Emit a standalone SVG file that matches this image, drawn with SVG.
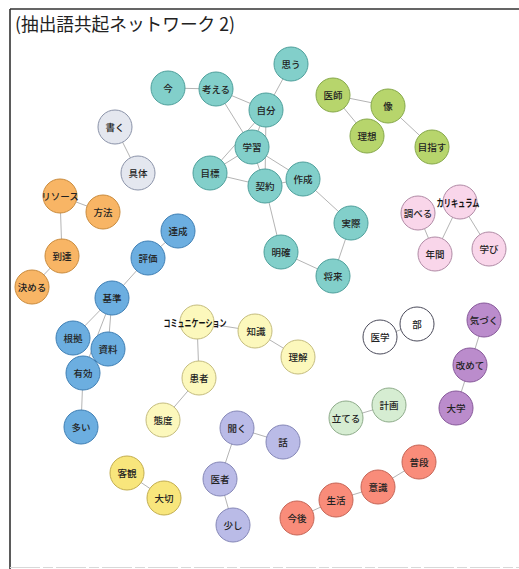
<svg xmlns="http://www.w3.org/2000/svg" width="519" height="569" viewBox="0 0 519 569">
  <style>
    .frame { stroke: #333; stroke-width: 1.6; fill: none; }
    .edge { stroke: #b4b4b4; stroke-width: 1; fill: none; }
    circle { stroke-width: 1; }
    .lbl { font-family: "Noto Sans CJK JP", "Noto Sans", sans-serif; font-size: 9.5px; font-weight: 500; fill: #222; text-anchor: middle; dominant-baseline: central; }
    .big { font-size: 10px; font-weight: 700; fill: #111; }
    .title { font-family: "Noto Sans CJK JP", sans-serif; font-size: 18px; fill: #222; }
    .t circle { fill: #82cfca; stroke: #4e9f9b; }
    .g circle { fill: #b7d56c; stroke: #86a84a; }
    .s circle { fill: #e4e7ef; stroke: #8b93a9; }
    .o circle { fill: #f8b565; stroke: #c98b3d; }
    .b circle { fill: #6caee0; stroke: #3f7fb4; }
    .y circle { fill: #fcf8bc; stroke: #c4bc7e; }
    .yy circle { fill: #f8e67c; stroke: #c2ad4f; }
    .p circle { fill: #f9d6ea; stroke: #b08aa5; }
    .w circle { fill: #ffffff; stroke: #4a4a5a; }
    .v circle { fill: #bb8ccc; stroke: #87599a; }
    .lg circle { fill: #d6edd2; stroke: #8eab8a; }
    .l circle { fill: #babbe7; stroke: #8587b7; }
    .r circle { fill: #f98c7a; stroke: #c56556; }
  </style>

  <!-- outer frame: top and left rules, faint bottom rule -->
  <path class="frame" d="M10,9 H519 M10,9 V569"/>
  <path d="M10,567.5 H519" stroke="#d8d8d8" stroke-width="1.2" stroke-dasharray="30 3 10 3"/>
  <text class="title" x="15" y="31" textLength="220" lengthAdjust="spacingAndGlyphs">(抽出語共起ネットワーク 2)</text>

  <g id="edges">
    <!-- teal cluster -->
    <line class="edge" x1="168" y1="88" x2="216" y2="89"/>
    <line class="edge" x1="216" y1="89" x2="266" y2="110"/>
    <line class="edge" x1="216" y1="89" x2="252" y2="147"/>
    <line class="edge" x1="291" y1="64" x2="266" y2="110"/>
    <line class="edge" x1="266" y1="110" x2="252" y2="147"/>
    <line class="edge" x1="266" y1="110" x2="265" y2="186"/>
    <line class="edge" x1="210" y1="173" x2="252" y2="147"/>
    <line class="edge" x1="210" y1="173" x2="266" y2="110"/>
    <line class="edge" x1="252" y1="147" x2="265" y2="186"/>
    <line class="edge" x1="252" y1="147" x2="303" y2="179"/>
    <line class="edge" x1="210" y1="173" x2="265" y2="186"/>
    <line class="edge" x1="265" y1="186" x2="303" y2="179"/>
    <line class="edge" x1="265" y1="186" x2="281" y2="252"/>
    <line class="edge" x1="303" y1="179" x2="351" y2="223"/>
    <line class="edge" x1="351" y1="223" x2="333" y2="276"/>
    <line class="edge" x1="333" y1="276" x2="281" y2="252"/>
    <!-- green -->
    <line class="edge" x1="333" y1="95" x2="388" y2="106"/>
    <line class="edge" x1="333" y1="95" x2="367" y2="136"/>
    <line class="edge" x1="388" y1="106" x2="432" y2="147"/>
    <!-- gray -->
    <line class="edge" x1="115" y1="127" x2="138" y2="173"/>
    <!-- orange -->
    <line class="edge" x1="60" y1="196" x2="103" y2="212"/>
    <line class="edge" x1="60" y1="196" x2="62" y2="256"/>
    <line class="edge" x1="62" y1="256" x2="32" y2="287"/>
    <!-- blue -->
    <line class="edge" x1="178" y1="231" x2="148" y2="258"/>
    <line class="edge" x1="148" y1="258" x2="112" y2="298"/>
    <line class="edge" x1="112" y1="298" x2="73" y2="338"/>
    <line class="edge" x1="112" y1="298" x2="108" y2="349"/>
    <line class="edge" x1="112" y1="298" x2="83" y2="373"/>
    <line class="edge" x1="83" y1="373" x2="81" y2="427"/>
    <!-- pale yellow -->
    <line class="edge" x1="197" y1="322" x2="255" y2="331"/>
    <line class="edge" x1="255" y1="331" x2="298" y2="357"/>
    <line class="edge" x1="197" y1="322" x2="199" y2="378"/>
    <line class="edge" x1="199" y1="378" x2="163" y2="420"/>
    <!-- yellow -->
    <line class="edge" x1="127" y1="473" x2="164" y2="498"/>
    <!-- pink -->
    <line class="edge" x1="418" y1="213" x2="435" y2="254"/>
    <line class="edge" x1="460" y1="202" x2="435" y2="254"/>
    <line class="edge" x1="460" y1="202" x2="489" y2="249"/>
    <!-- white -->
    <line class="edge" x1="380" y1="337" x2="417" y2="324"/>
    <!-- purple -->
    <line class="edge" x1="484" y1="320" x2="470" y2="365"/>
    <line class="edge" x1="470" y1="365" x2="456" y2="408"/>
    <!-- light green -->
    <line class="edge" x1="346" y1="418" x2="389" y2="405"/>
    <!-- lavender -->
    <line class="edge" x1="237" y1="428" x2="283" y2="442"/>
    <line class="edge" x1="237" y1="428" x2="220" y2="479"/>
    <line class="edge" x1="220" y1="479" x2="233" y2="525"/>
    <!-- red -->
    <line class="edge" x1="297" y1="518" x2="336" y2="500"/>
    <line class="edge" x1="336" y1="500" x2="378" y2="487"/>
    <line class="edge" x1="378" y1="487" x2="419" y2="462"/>
  </g>

  <!-- teal -->
  <g id="n-ima" class="t"><circle cx="168" cy="88" r="17"/><text class="lbl" x="168" y="88">今</text></g>
  <g id="n-kangaeru" class="t"><circle cx="216" cy="89" r="17"/><text class="lbl" x="216" y="89">考える</text></g>
  <g id="n-omou" class="t"><circle cx="291" cy="64" r="17"/><text class="lbl" x="291" y="64">思う</text></g>
  <g id="n-jibun" class="t"><circle cx="266" cy="110" r="17"/><text class="lbl" x="266" y="110">自分</text></g>
  <g id="n-gakushu" class="t"><circle cx="252" cy="147" r="17"/><text class="lbl" x="252" y="147">学習</text></g>
  <g id="n-mokuhyo" class="t"><circle cx="210" cy="173" r="17"/><text class="lbl" x="210" y="173">目標</text></g>
  <g id="n-keiyaku" class="t"><circle cx="265" cy="186" r="17"/><text class="lbl" x="265" y="186">契約</text></g>
  <g id="n-sakusei" class="t"><circle cx="303" cy="179" r="17"/><text class="lbl" x="303" y="179">作成</text></g>
  <g id="n-jissai" class="t"><circle cx="351" cy="223" r="17"/><text class="lbl" x="351" y="223">実際</text></g>
  <g id="n-meikaku" class="t"><circle cx="281" cy="252" r="17"/><text class="lbl" x="281" y="252">明確</text></g>
  <g id="n-shorai" class="t"><circle cx="333" cy="276" r="17"/><text class="lbl" x="333" y="276">将来</text></g>

  <!-- green -->
  <g id="n-ishi" class="g"><circle cx="333" cy="95" r="17"/><text class="lbl" x="333" y="95">医師</text></g>
  <g id="n-zo" class="g"><circle cx="388" cy="106" r="17"/><text class="lbl" x="388" y="106">像</text></g>
  <g id="n-riso" class="g"><circle cx="367" cy="136" r="17"/><text class="lbl" x="367" y="136">理想</text></g>
  <g id="n-mezasu" class="g"><circle cx="432" cy="147" r="17"/><text class="lbl" x="432" y="147">目指す</text></g>

  <!-- gray -->
  <g id="n-kaku" class="s"><circle cx="115" cy="127" r="17"/><text class="lbl" x="115" y="127">書く</text></g>
  <g id="n-gutai" class="s"><circle cx="138" cy="173" r="17"/><text class="lbl" x="138" y="173">具体</text></g>

  <!-- orange -->
  <g id="n-resource" class="o"><circle cx="60" cy="196" r="17"/><text class="lbl" x="60" y="196">リソース</text></g>
  <g id="n-hoho" class="o"><circle cx="103" cy="212" r="17"/><text class="lbl" x="103" y="212">方法</text></g>
  <g id="n-totatsu" class="o"><circle cx="62" cy="256" r="17"/><text class="lbl" x="62" y="256">到達</text></g>
  <g id="n-kimeru" class="o"><circle cx="32" cy="287" r="17"/><text class="lbl" x="32" y="287">決める</text></g>

  <!-- blue -->
  <g id="n-tassei" class="b"><circle cx="178" cy="231" r="17"/><text class="lbl" x="178" y="231">達成</text></g>
  <g id="n-hyoka" class="b"><circle cx="148" cy="258" r="17"/><text class="lbl" x="148" y="258">評価</text></g>
  <g id="n-kijun" class="b"><circle cx="112" cy="298" r="17"/><text class="lbl" x="112" y="298">基準</text></g>
  <g id="n-konkyo" class="b"><circle cx="73" cy="338" r="17"/><text class="lbl" x="73" y="338">根拠</text></g>
  <g id="n-shiryo" class="b"><circle cx="108" cy="349" r="17"/><text class="lbl" x="108" y="349">資料</text></g>
  <g id="n-yuko" class="b"><circle cx="83" cy="373" r="17"/><text class="lbl" x="83" y="373">有効</text></g>
  <g id="n-oi" class="b"><circle cx="81" cy="427" r="17"/><text class="lbl" x="81" y="427">多い</text></g>

  <!-- pale yellow -->
  <g id="n-communication" class="y"><circle cx="197" cy="322" r="17"/><text class="lbl big" transform="translate(195 322.5) scale(0.7 1)">コミュニケーション</text></g>
  <g id="n-chishiki" class="y"><circle cx="255" cy="331" r="17"/><text class="lbl" x="256" y="331">知識</text></g>
  <g id="n-rikai" class="y"><circle cx="298" cy="357" r="17"/><text class="lbl" x="298" y="357">理解</text></g>
  <g id="n-kanja" class="y"><circle cx="199" cy="378" r="17"/><text class="lbl" x="199" y="378">患者</text></g>
  <g id="n-taido" class="y"><circle cx="163" cy="420" r="17"/><text class="lbl" x="163" y="420">態度</text></g>

  <!-- yellow -->
  <g id="n-kyakkan" class="yy"><circle cx="127" cy="473" r="17"/><text class="lbl" x="127" y="473">客観</text></g>
  <g id="n-taisetsu" class="yy"><circle cx="164" cy="498" r="17"/><text class="lbl" x="164" y="498">大切</text></g>

  <!-- pink -->
  <g id="n-shiraberu" class="p"><circle cx="418" cy="213" r="17"/><text class="lbl" x="418" y="213">調べる</text></g>
  <g id="n-curriculum" class="p"><circle cx="460" cy="202" r="17"/><text class="lbl big" transform="translate(458 203) scale(0.72 1)">カリキュラム</text></g>
  <g id="n-nenkan" class="p"><circle cx="435" cy="254" r="17"/><text class="lbl" x="435" y="254">年間</text></g>
  <g id="n-manabi" class="p"><circle cx="489" cy="249" r="17"/><text class="lbl" x="489" y="249">学び</text></g>

  <!-- white -->
  <g id="n-igaku" class="w"><circle cx="380" cy="337" r="17"/><text class="lbl" x="380" y="337">医学</text></g>
  <g id="n-bu" class="w"><circle cx="417" cy="324" r="17"/><text class="lbl" x="417" y="324">部</text></g>

  <!-- purple -->
  <g id="n-kizuku" class="v"><circle cx="484" cy="320" r="17"/><text class="lbl" x="484" y="320">気づく</text></g>
  <g id="n-aratamete" class="v"><circle cx="470" cy="365" r="17"/><text class="lbl" x="470" y="365">改めて</text></g>
  <g id="n-daigaku" class="v"><circle cx="456" cy="408" r="17"/><text class="lbl" x="456" y="408">大学</text></g>

  <!-- light green -->
  <g id="n-tateru" class="lg"><circle cx="346" cy="418" r="17"/><text class="lbl" x="346" y="418">立てる</text></g>
  <g id="n-keikaku" class="lg"><circle cx="389" cy="405" r="17"/><text class="lbl" x="389" y="405">計画</text></g>

  <!-- lavender -->
  <g id="n-kiku" class="l"><circle cx="237" cy="428" r="17"/><text class="lbl" x="237" y="428">聞く</text></g>
  <g id="n-hanashi" class="l"><circle cx="283" cy="442" r="17"/><text class="lbl" x="283" y="442">話</text></g>
  <g id="n-isha" class="l"><circle cx="220" cy="479" r="17"/><text class="lbl" x="220" y="479">医者</text></g>
  <g id="n-sukoshi" class="l"><circle cx="233" cy="525" r="17"/><text class="lbl" x="233" y="525">少し</text></g>

  <!-- red -->
  <g id="n-kongo" class="r"><circle cx="297" cy="518" r="17"/><text class="lbl" x="297" y="518">今後</text></g>
  <g id="n-seikatsu" class="r"><circle cx="336" cy="500" r="17"/><text class="lbl" x="336" y="500">生活</text></g>
  <g id="n-ishiki" class="r"><circle cx="378" cy="487" r="17"/><text class="lbl" x="378" y="487">意識</text></g>
  <g id="n-fudan" class="r"><circle cx="419" cy="462" r="17"/><text class="lbl" x="419" y="462">普段</text></g>
</svg>
